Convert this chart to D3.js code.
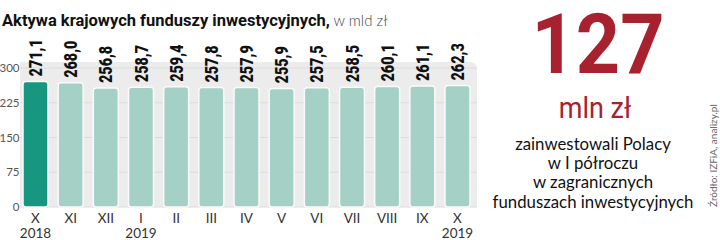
<!DOCTYPE html>
<html>
<head>
<meta charset="utf-8">
<script src="https://cdn.jsdelivr.net/npm/d3@7.9.0/dist/d3.min.js"></script>
<style>
  body { margin: 0; background: #fff; }
  svg { display: block; }
</style>
</head>
<body>
<svg id="chart" width="720" height="240"></svg>
<script>
// data
const months = ['X', 'XI', 'XII', 'I', 'II', 'III', 'IV', 'V', 'VI', 'VII', 'VIII', 'IX', 'X'];
const years = ['2018', '', '', '2019', '', '', '', '', '', '', '', '', '2019'];
const assets = [271.1, 268.0, 256.8, 258.7, 259.4, 257.8, 257.9, 255.9, 257.5, 258.5, 260.1, 261.1, 262.3];
const yTicks = [0, 75, 150, 225, 300];
const keys = months.map((m, i) => i);

const svg = d3.select('#chart');
// no condensed font installed, so Roboto gets squeezed with a scale where needed
const bold = 'Roboto, sans-serif';
const plain = 'Lato, "Open Sans", sans-serif';

let x = d3.scalePoint().domain(keys).range([35.5, 457.5]);
let y = d3.scaleLinear().domain([0, 300]).range([207, 68]);
const barW = 25;

// panel background
svg.append('path')
  .attr('d', `M20,${y(300) - 6} H470 Q477,${y(300) - 6} 477,${y(300) + 1} V${y(0)} H20 Z`)
  .attr('fill', '#ececec');

// grid lines
svg.append('g')
  .selectAll('line')
  .data(yTicks)
  .join('line')
  .attr('x1', 20).attr('x2', 477)
  .attr('y1', (d) => y(d)).attr('y2', (d) => y(d))
  .attr('stroke', '#dcdcdc');

// y axis labels
const yAxis = svg.append('g')
  .attr('transform', 'translate(19.5,0)')
  .call(d3.axisLeft(y).tickValues(yTicks).tickSize(0).tickPadding(0));
yAxis.select('.domain').remove();
yAxis.selectAll('text')
  .attr('font-family', plain)
  .attr('font-size', 11.5)
  .attr('fill', '#555');

// bars
svg.append('g')
  .selectAll('rect')
  .data(keys)
  .join('rect')
  .attr('x', (i) => x(i) - barW / 2)
  .attr('y', (i) => y(assets[i]))
  .attr('width', barW)
  .attr('height', (i) => y(0) - y(assets[i]))
  .attr('rx', 3)
  .attr('fill', (i) => (i === 0 ? '#17977f' : '#a4d0c5'))
  .attr('stroke', '#fafafa')
  .attr('stroke-width', 1.5);

// value labels, rotated
svg.append('g')
  .selectAll('text')
  .data(keys)
  .join('text')
  .attr('transform', (i) => `translate(${x(i) + 6.5},${y(assets[i]) - 5}) rotate(-90) scale(0.8,1)`)
  .attr('font-family', bold)
  .attr('font-weight', 900)
  .attr('font-size', 18)
  .attr('fill', '#111')
  .text((i) => assets[i].toFixed(1).replace('.', ','));

// x labels
const xg = svg.append('g').attr('font-family', plain).attr('font-size', 13.5).attr('fill', '#333').attr('text-anchor', 'middle');
xg.selectAll('text.m')
  .data(keys)
  .join('text')
  .attr('class', 'm')
  .attr('x', (i) => x(i))
  .attr('y', 223)
  .text((i) => months[i]);
xg.selectAll('text.yr')
  .data(keys.filter((i) => years[i]))
  .join('text')
  .attr('class', 'yr')
  .attr('x', (i) => x(i))
  .attr('y', 237.5)
  .text((i) => years[i]);

// title
const title = svg.append('text')
  .attr('x', 2)
  .attr('y', 26)
  .attr('font-size', 16.5);
title.append('tspan')
  .attr('font-family', bold)
  .attr('font-weight', 'bold')
  .attr('fill', '#111')
  .text('Aktywa krajowych funduszy inwestycyjnych,');
title.append('tspan')
  .attr('font-family', plain)
  .attr('font-weight', 300)
  .attr('font-size', 15)
  .attr('fill', '#444')
  .text(' w mld zł');

// big number block
svg.append('text')
  .attr('transform', 'translate(598,73) scale(0.92,1)')
  .attr('text-anchor', 'middle')
  .attr('font-family', bold)
  .attr('font-weight', 'bold')
  .attr('font-size', 84)
  .attr('fill', '#a8212f')
  .text('127');

svg.append('text')
  .attr('transform', 'translate(595,118) scale(0.9,1)')
  .attr('text-anchor', 'middle')
  .attr('font-family', bold)
  .attr('font-size', 30)
  .attr('fill', '#a8212f')
  .text('mln zł');

const noteLines = ['zainwestowali Polacy', 'w I półroczu', 'w zagranicznych', 'funduszach inwestycyjnych'];
svg.append('g')
  .selectAll('text')
  .data(noteLines)
  .join('text')
  .attr('x', 593)
  .attr('y', (d, i) => 150 + i * 19.2)
  .attr('text-anchor', 'middle')
  .attr('font-family', plain)
  .attr('font-size', 16.8)
  .attr('fill', '#111')
  .text((d) => d);

// source
svg.append('text')
  .attr('transform', 'translate(717,207) rotate(-90)')
  .attr('font-family', plain)
  .attr('font-size', 10)
  .attr('fill', '#666')
  .text('Źródło: IZFiA, analizy.pl');
</script>
</body>
</html>
